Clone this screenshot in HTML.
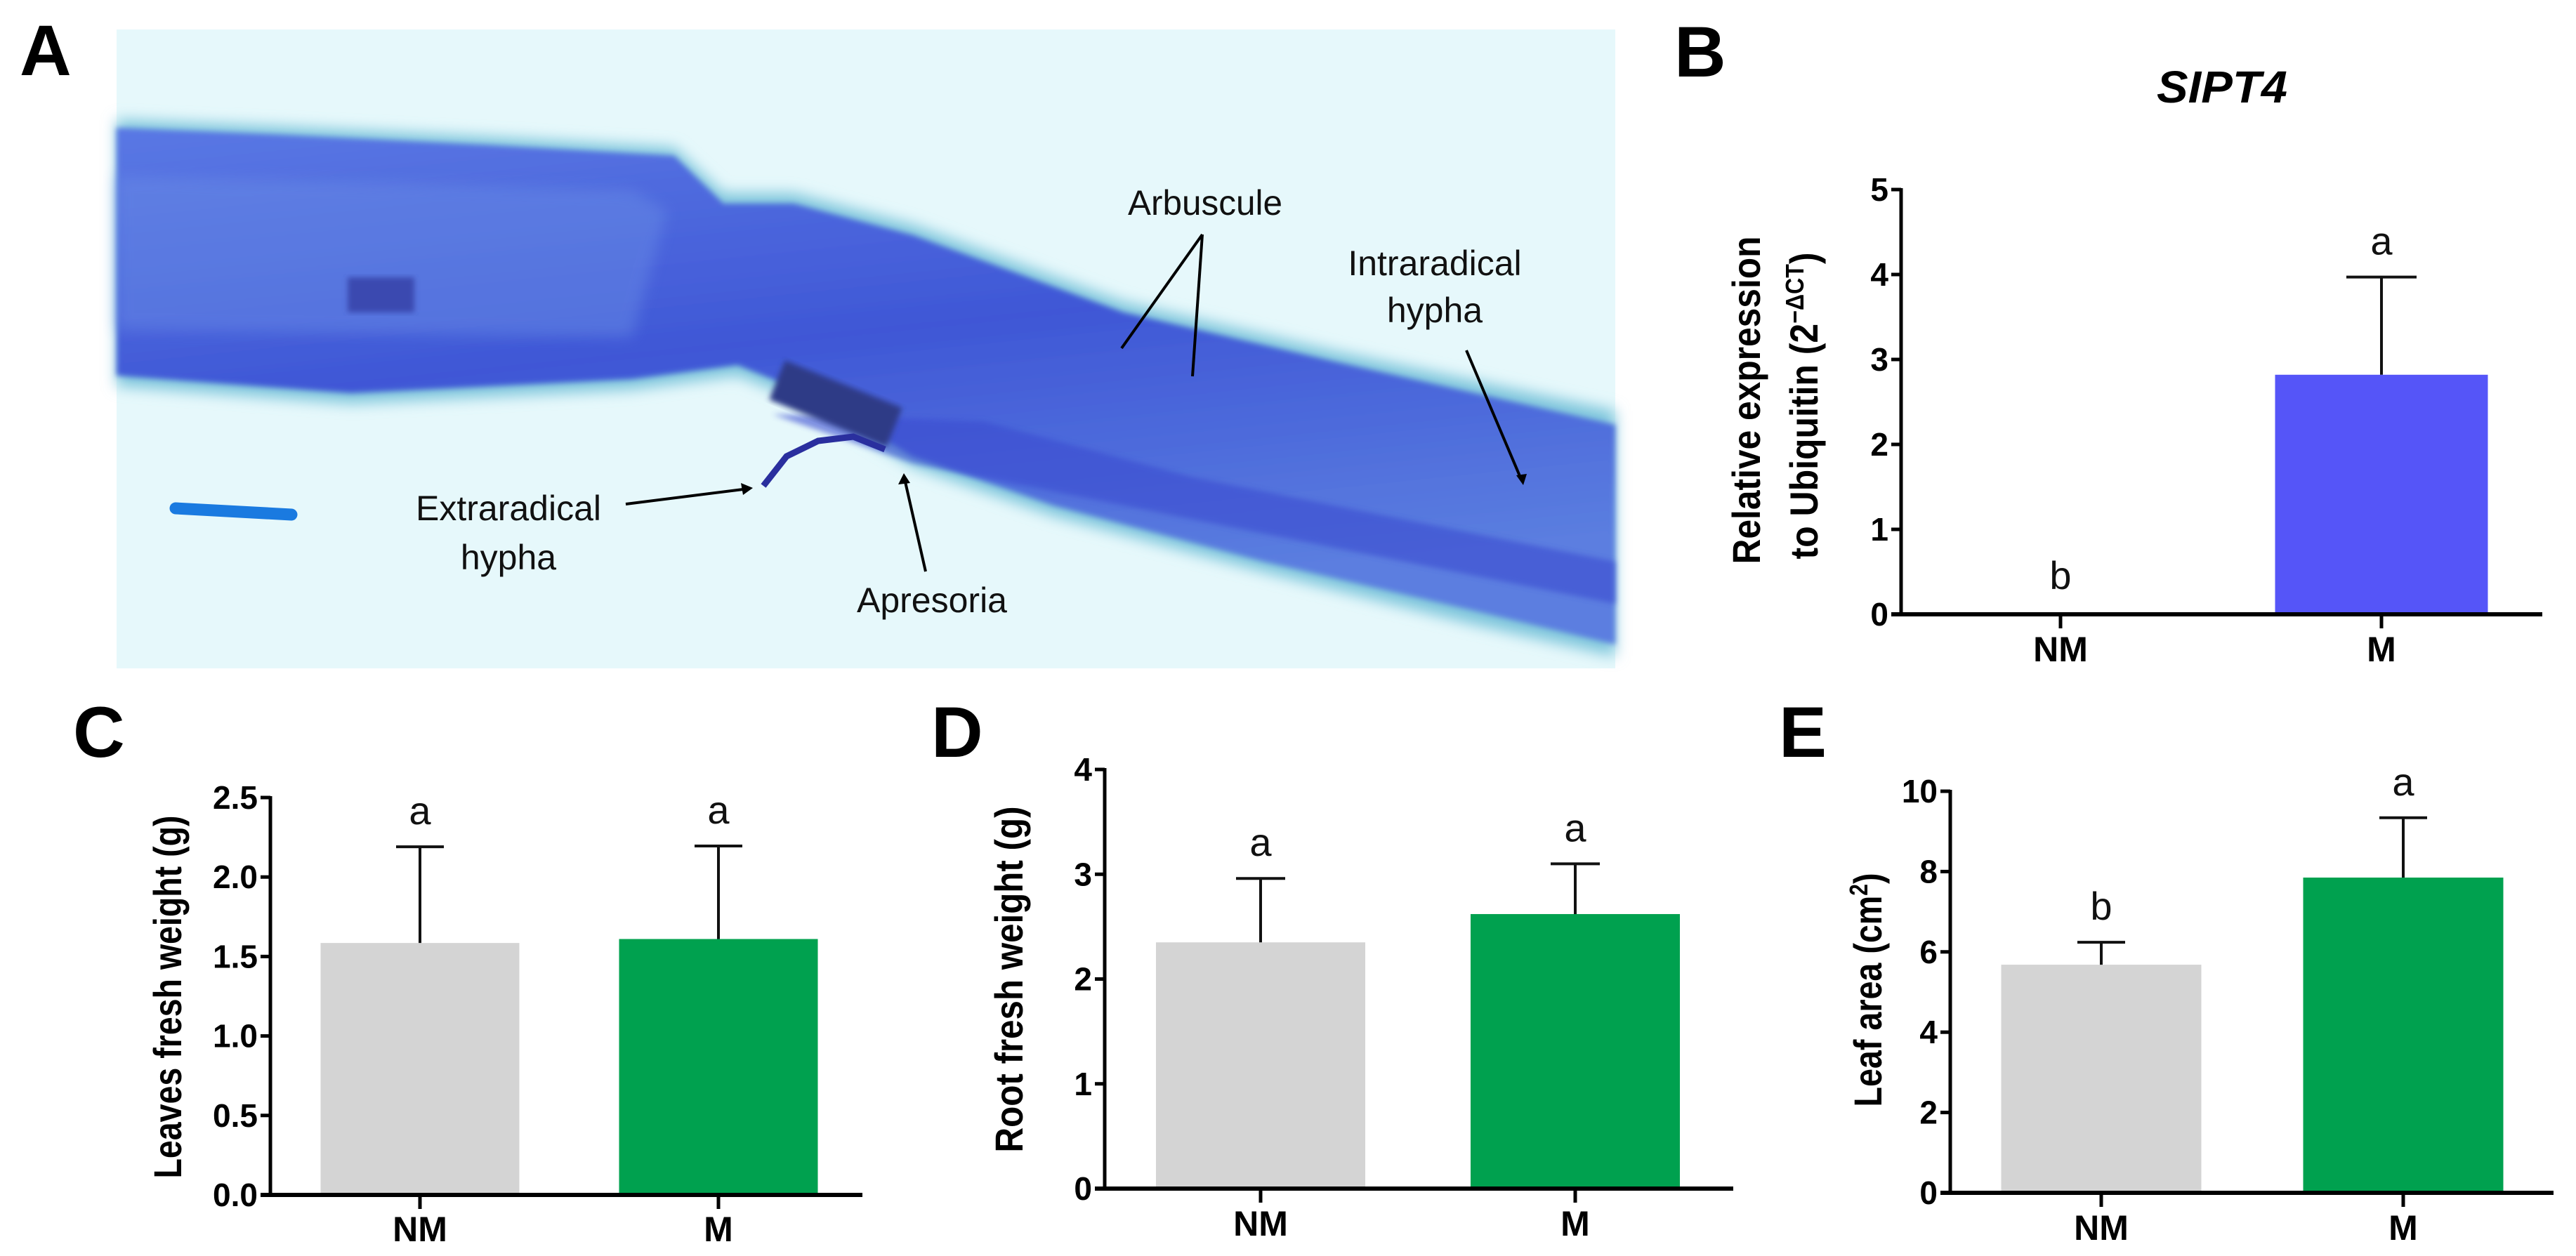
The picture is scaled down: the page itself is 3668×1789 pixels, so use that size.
<!DOCTYPE html>
<html><head><meta charset="utf-8"><style>
html,body{margin:0;padding:0;background:#fff;}
svg{display:block;}
text{font-family:"Liberation Sans",sans-serif;}
.n{font-family:"Liberation Sans Narrow","Liberation Sans",sans-serif;}
</style></head><body>
<svg id="fig" xmlns="http://www.w3.org/2000/svg" width="3668" height="1789" viewBox="0 0 3668 1789">
<defs>
<linearGradient id="rootg" x1="0" y1="0" x2="0.3" y2="1">
<stop offset="0" stop-color="#5a78e4"/><stop offset="0.5" stop-color="#3f57d6"/><stop offset="1" stop-color="#5b7ee0"/>
</linearGradient>
<filter id="blur"><feGaussianBlur stdDeviation="10"/></filter>
<filter id="blur2"><feGaussianBlur stdDeviation="4"/></filter>
</defs>
<g>
<rect x="166" y="42" width="2134" height="910" fill="#e6f8fb"/>
<path d="M166,170 L400,180 L700,195 L960,210 L1030,275 L1130,275 L1300,320 L1600,430 L1900,500 L2300,585 L2300,935 L2100,890 L1800,815 L1500,735 L1300,665 L1150,575 L1050,535 L900,555 L500,575 L166,550 Z" fill="#7fc6dc" filter="url(#blur)"/>
<path d="M166,182 L400,192 L700,207 L960,222 L1030,290 L1130,290 L1300,335 L1600,445 L1900,515 L2300,605 L2300,918 L2100,870 L1800,800 L1500,720 L1300,650 L1150,560 L1050,520 L900,540 L500,560 L166,535 Z" fill="url(#rootg)" filter="url(#blur2)"/>
<path d="M1100,590 L1400,600 L1700,680 L2300,800 L2300,860 L1700,740 L1300,660 Z" fill="#3a4cd0" opacity="0.6" filter="url(#blur2)"/>
<path d="M166,250 L900,270 L950,300 L900,480 L166,470 Z" fill="#6a8ee6" opacity="0.45" filter="url(#blur)"/>
<rect x="1100" y="545" width="180" height="60" fill="#2d3a86" transform="rotate(22 1190 575)" filter="url(#blur2)"/>
<rect x="495" y="395" width="95" height="50" fill="#3a48b0" filter="url(#blur2)"/>
<path d="M1087,692 L1120,650 L1165,628 L1215,622 L1260,640" stroke="#2a2f9e" stroke-width="9" fill="none"/>
<line x1="250" y1="724" x2="415" y2="733" stroke="#1a7ae0" stroke-width="17" stroke-linecap="round"/>
<g stroke="#000" stroke-width="4" fill="none">
<line x1="1712" y1="334" x2="1597" y2="496"/><line x1="1712" y1="334" x2="1698" y2="536"/>
<line x1="2088" y1="499" x2="2167" y2="685"/>
<line x1="891" y1="718" x2="1066" y2="696"/>
<line x1="1318" y1="814" x2="1288" y2="682"/>
</g>
<g fill="#000"><path d="M1072,695 L1055,688 L1058,705 Z"/><path d="M1287,674 L1279,690 L1296,688 Z"/><path d="M2169,691 L2159,677 L2174,675 Z"/></g>
<g class="n" font-size="50" fill="#111" text-anchor="middle">
<text class="n" x="1716" y="306" textLength="220" lengthAdjust="spacingAndGlyphs">Arbuscule</text>
<text class="n" x="2043" y="392">Intraradical</text>
<text class="n" x="2043" y="459">hypha</text>
<text class="n" x="724" y="741">Extraradical</text>
<text class="n" x="724" y="811">hypha</text>
<text class="n" x="1327" y="872">Apresoria</text>
</g>
</g>
<g font-weight="bold" font-size="102" fill="#000">
<text class="n" x="28" y="107">A</text>
<text x="2384" y="109">B</text>
<text x="104" y="1078">C</text>
<text x="1326" y="1078">D</text>
<text x="2533" y="1078">E</text>
</g>
<text x="3164" y="146" font-size="64" font-weight="bold" font-style="italic" text-anchor="middle" textLength="186" lengthAdjust="spacingAndGlyphs">SIPT4</text>
<g id="charts"></g>
</svg>
<script>
// Chart B: SlPT4 relative expression
const bCategories = ["NM","M"];
const bValues = [0, 2.82];
const bErrors = [0, 1.15];
const bLetters = ["b","a"];
const bTicks = [0,1,2,3,4,5];
const bTickLabels = ["0","1","2","3","4","5"];
// Chart C: leaves fresh weight
const cCategories = ["NM","M"];
const cValues = [1.585, 1.61];
const cErrors = [0.605, 0.585];
const cLetters = ["a","a"];
const cTicks = [0,0.5,1,1.5,2,2.5];
const cTickLabels = ["0.0","0.5","1.0","1.5","2.0","2.5"];
// Chart D: root fresh weight
const dCategories = ["NM","M"];
const dValues = [2.35, 2.62];
const dErrors = [0.61, 0.48];
const dLetters = ["a","a"];
const dTicks = [0,1,2,3,4];
const dTickLabels = ["0","1","2","3","4"];
// Chart E: leaf area
const eCategories = ["NM","M"];
const eValues = [5.68, 7.85];
const eErrors = [0.56, 1.49];
const eLetters = ["b","a"];
const eTicks = [0,2,4,6,8,10];
const eTickLabels = ["0","2","4","6","8","10"];

const NS="http://www.w3.org/2000/svg";
const root=document.getElementById('charts');
function mk(tag,attrs,parent){const e=document.createElementNS(NS,tag);for(const k in attrs)e.setAttribute(k,attrs[k]);parent.appendChild(e);return e;}

function drawChart(id,cfg,cats,vals,errs,letters,ticks,tickLabels){
  const g=mk('g',{},root);
  
  
  const ymax=ticks[ticks.length-1];
  const y=v=>cfg.base-(cfg.base-cfg.top)*v/ymax;
  const x=i=>cfg.centers[i];
  cats.forEach((c,i)=>{
    if(cfg.colors[i]!=='none'){
      const r=mk('rect',{x:x(i)-cfg.bw/2,y:y(vals[i]),width:cfg.bw,height:cfg.base-y(vals[i]),fill:cfg.colors[i]},g);
      
      
    }
    const top=y(vals[i]+errs[i]);
    if(errs[i]>0){
      const eb=mk('path',{d:`M${x(i)},${y(vals[i])} L${x(i)},${top} M${x(i)-cfg.cap},${top} L${x(i)+cfg.cap},${top}`,stroke:'#111','stroke-width':4,fill:'none'},g);
      
      
    }
    const lt=mk('text',{x:x(i),y:top-(errs[i]>0?32:36),'font-size':56,'text-anchor':'middle',fill:'#111',class:'n'},g);
    lt.textContent=letters[i];
    
    
    const xl=mk('text',{x:x(i),y:cfg.xlab,'font-size':50,'font-weight':'bold','text-anchor':'middle',fill:'#000',class:'n'},g);
    xl.textContent=c;
    
    
    mk('line',{x1:x(i),y1:cfg.base,x2:x(i),y2:cfg.base+20,stroke:'#000','stroke-width':5},g);
  });
  const ya=mk('line',{x1:cfg.ax,y1:cfg.top-2,x2:cfg.ax,y2:cfg.base+3,stroke:'#000','stroke-width':5},g);
  
  
  const xa=mk('line',{x1:cfg.ax-14,y1:cfg.base,x2:cfg.xend,y2:cfg.base,stroke:'#000','stroke-width':6},g);
  
  
  ticks.forEach((t,i)=>{
    mk('line',{x1:cfg.ax-14,y1:y(t),x2:cfg.ax,y2:y(t),stroke:'#000','stroke-width':5},g);
    const tl=mk('text',{x:cfg.ax-18,y:y(t)+16,'font-size':46,'font-weight':'bold','text-anchor':'end',fill:'#000',class:'n'},g);
    tl.textContent=tickLabels[i];
    
    
  });
  cfg.titles.forEach(tt=>{
    const t=mk('text',{x:0,y:0,'font-size':56,'font-weight':'bold','text-anchor':'middle',fill:'#000',transform:`translate(${tt.x},${tt.y}) rotate(-90)`,textLength:tt.len,lengthAdjust:'spacingAndGlyphs'},g);
    t.innerHTML=tt.html;
    
    
  });
}

drawChart('b',{ax:2707,base:875,top:270,xend:3620,centers:[2934,3391],bw:303,cap:50,colors:['none','#5555f8'],xlab:942,
  titles:[{x:2506,y:570,len:467,html:'Relative expression'},{x:2588,y:578,len:437,html:'to Ubiquitin (2<tspan font-size="36" dy="-20">−ΔCT</tspan><tspan dy="20">)</tspan>'}]},
  bCategories,bValues,bErrors,bLetters,bTicks,bTickLabels);
drawChart('c',{ax:385,base:1702,top:1136,xend:1228,centers:[598,1023],bw:283,cap:34,colors:['#d4d4d4','#00a14f'],xlab:1768,
  titles:[{x:258,y:1420,len:517,html:'Leaves fresh weight (g)'}]},
  cCategories,cValues,cErrors,cLetters,cTicks,cTickLabels);
drawChart('d',{ax:1573,base:1693,top:1096,xend:2468,centers:[1795,2243],bw:298,cap:35,colors:['#d4d4d4','#00a14f'],xlab:1760,
  titles:[{x:1456,y:1395,len:493,html:'Root fresh weight (g)'}]},
  dCategories,dValues,dErrors,dLetters,dTicks,dTickLabels);
drawChart('e',{ax:2777,base:1699,top:1127,xend:3636,centers:[2992,3422],bw:285,cap:34,colors:['#d4d4d4','#00a14f'],xlab:1766,
  titles:[{x:2679,y:1410,len:333,html:'Leaf area (cm<tspan font-size="36" dy="-20">2</tspan><tspan dy="20">)</tspan>'}]},
  eCategories,eValues,eErrors,eLetters,eTicks,eTickLabels);
</script>
</body></html>
